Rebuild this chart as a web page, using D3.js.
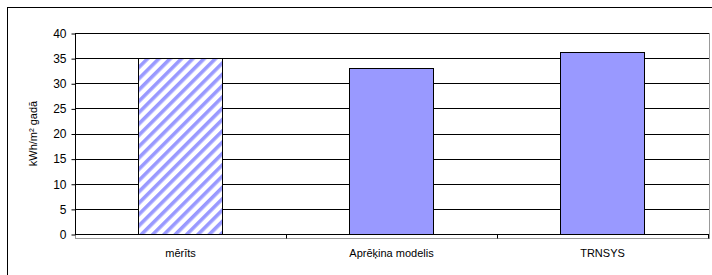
<!DOCTYPE html>
<meta charset="utf-8">
<style>
body { margin: 0; background: #fff; }
text { font-family: "Liberation Sans", Arial, sans-serif; fill: #000; }
</style>
<body>
<script src="https://cdn.jsdelivr.net/npm/d3@7"></script>
<script>
// data
var categories = ["mērīts", "Aprēķina modelis", "TRNSYS"];
var values = [35, 33, 36.2];
var hatched = [true, false, false];
var yTicks = [0, 5, 10, 15, 20, 25, 30, 35, 40];

var width = 712, height = 275;
var plotLeft = 75, plotRight = 708, plotTop = 33, plotBottom = 234;

var svg = d3.select("body").append("svg")
    .attr("width", width)
    .attr("height", height);

// hatch pattern for first bar
var defs = svg.append("defs");
var pat = defs.append("pattern")
    .attr("id", "hatch")
    .attr("patternUnits", "userSpaceOnUse")
    .attr("width", 8)
    .attr("height", 8)
    .attr("patternTransform", "rotate(45)");
pat.append("rect").attr("width", 8).attr("height", 8).attr("fill", "#fff");
pat.append("rect").attr("x", 0).attr("width", 3.6).attr("height", 8).attr("fill", "#9999ff");

// outer border (cut at right/bottom like the reference)
svg.append("rect")
    .attr("x", 7.5).attr("y", 7.5)
    .attr("width", 720).attr("height", 280)
    .attr("fill", "none").attr("stroke", "#000").attr("stroke-width", 1);

var x = d3.scaleBand().domain(categories).range([plotLeft, plotRight]);
var y = d3.scaleLinear().domain([0, 40]).range([plotBottom, plotTop]);

// plot area border
svg.append("rect")
    .attr("x", plotLeft + 0.5).attr("y", plotTop + 0.5)
    .attr("width", plotRight - plotLeft + 1).attr("height", plotBottom - plotTop + 4)
    .attr("fill", "none").attr("stroke", "#999");

// gridlines
svg.append("g").selectAll("line").data(yTicks).join("line")
    .attr("x1", plotLeft).attr("x2", plotRight + 1)
    .attr("y1", d => Math.round(y(d)) + 0.5)
    .attr("y2", d => Math.round(y(d)) + 0.5)
    .attr("stroke", "#000").attr("stroke-width", 1);

// bars
svg.append("g").selectAll("rect").data(values).join("rect")
    .attr("x", (d, i) => Math.round(x(categories[i]) + x.bandwidth() * 0.3) + 0.5)
    .attr("y", d => Math.round(y(d)) + 0.5)
    .attr("width", Math.round(x.bandwidth() * 0.4))
    .attr("height", d => Math.round(y(0)) - Math.round(y(d)))
    .attr("fill", (d, i) => hatched[i] ? "url(#hatch)" : "#9999ff")
    .attr("stroke", "#000").attr("stroke-width", 1);

// y axis
var yAxis = svg.append("g")
    .attr("transform", "translate(" + (plotLeft + 0.5) + ",0.5)")
    .call(d3.axisLeft(y).tickValues(yTicks).tickSize(4).tickPadding(5));
yAxis.select(".domain").attr("stroke", "#000").attr("d", "M0," + plotTop + "V" + plotBottom);
yAxis.selectAll("text").attr("font-size", 12).attr("font-family", "Liberation Sans, Arial, sans-serif");

// x axis
var xAxis = svg.append("g")
    .attr("transform", "translate(0," + (plotBottom + 0.5) + ")");
xAxis.append("line")
    .attr("x1", plotLeft).attr("x2", plotRight + 1)
    .attr("stroke", "#000");
xAxis.selectAll(".tk").data(categories).join("line")
    .attr("class", "tk")
    .attr("x1", d => Math.round(x(d) + x.bandwidth()) + 0.5)
    .attr("x2", d => Math.round(x(d) + x.bandwidth()) + 0.5)
    .attr("y1", 0).attr("y2", 4)
    .attr("stroke", "#000");
xAxis.selectAll("text").data(categories).join("text")
    .attr("x", d => x(d) + x.bandwidth() / 2)
    .attr("y", 22)
    .attr("text-anchor", "middle")
    .attr("font-size", 11)
    .text(d => d);

// y label
svg.append("text")
    .attr("transform", "translate(37," + ((plotTop + plotBottom) / 2) + ") rotate(-90)")
    .attr("text-anchor", "middle")
    .attr("font-size", 11)
    .text("kWh/m² gadā");
</script>
</body>
